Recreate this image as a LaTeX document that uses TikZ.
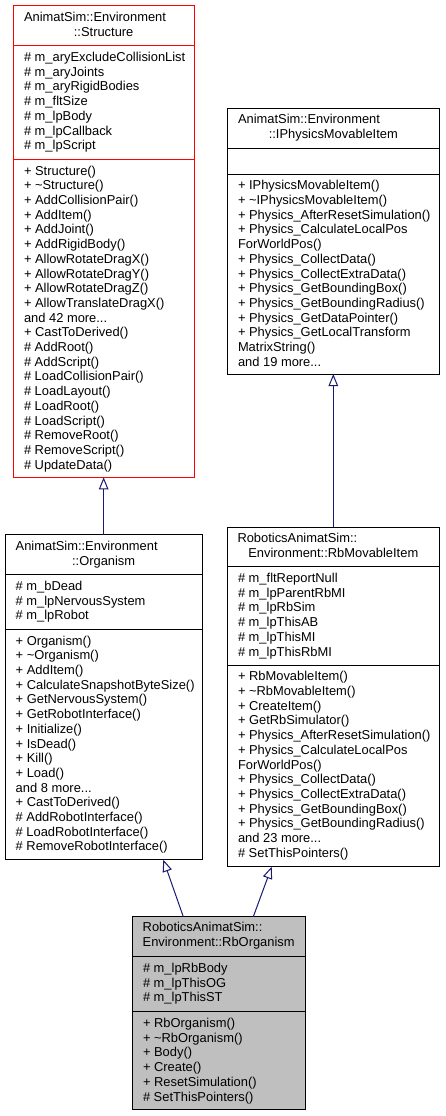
\documentclass[tikz,border=0pt]{standalone}
\usepackage{fontspec}
\setmainfont{Liberation Sans}
\usetikzlibrary{arrows.meta,calc}
\definecolor{mblue}{RGB}{25,25,112}
\definecolor{gfill}{RGB}{191,191,191}
\tikzset{
  classbox/.style={draw=black, fill=white, inner sep=0pt, outer sep=0pt, anchor=north west, line width=1pt},
  sepline/.style={line width=1pt},
  memtext/.style={anchor=base west, inner sep=0pt, font=\fontsize{12.9}{14.7}\selectfont},
  ttext/.style={anchor=base, inner sep=0pt, font=\fontsize{12.9}{14.7}\selectfont},
  inh/.style={draw=mblue, line width=1pt, -{Triangle[length=12pt,width=9.5pt,fill=white]}}
}
\newcommand{\memberlist}[4]{%
  \foreach \t [count=\i from 0] in {#4} {%
    \node[memtext] (#1-\i) at (#2, #3+15.8+14.7*\i) {\t};
  }}
\newcommand{\tld}{\char`\~}
\newcommand{\mdots}{...}
\begin{document}
\begin{tikzpicture}[x=1pt,y=-1pt]
\fill[white] (0,0) rectangle (445,1116);
\useasboundingbox (0,0) rectangle (445,1116);

% ---------- Structure ----------
\node[classbox, draw=red, minimum width=180.7pt, minimum height=471.6pt] (structure) at (13.3,5.7) {};
\draw[sepline, red] (13.3,45.7) -- (194,45.7);
\draw[sepline, red] (13.3,159.3) -- (194,159.3);
\node[memtext] (st-t1) at (23.8,21.2) {AnimatSim::Environment};
\node[ttext] (st-t2) at (103.65,36.2) {::Structure};
\memberlist{sta}{23.8}{45.7}{\# m\_aryExcludeCollisionList,\# m\_aryJoints,\# m\_aryRigidBodies,\# m\_fltSize,\# m\_lpBody,\# m\_lpCallback,\# m\_lpScript}
\memberlist{stm}{23.8}{159.3}{+ Structure(),+ \tld Structure(),+ AddCollisionPair(),+ AddItem(),+ AddJoint(),+ AddRigidBody(),+ AllowRotateDragX(),+ AllowRotateDragY(),+ AllowRotateDragZ(),+ AllowTranslateDragX(),and 42 more\mdots,+ CastToDerived(),\# AddRoot(),\# AddScript(),\# LoadCollisionPair(),\# LoadLayout(),\# LoadRoot(),\# LoadScript(),\# RemoveRoot(),\# RemoveScript(),\# UpdateData()}

% ---------- IPhysicsMovableItem ----------
\node[classbox, minimum width=212pt, minimum height=265.7pt] (iphys) at (227.3,108.3) {};
\draw[sepline] (227.3,148.3) -- (439.3,148.3);
\draw[sepline] (227.3,174) -- (439.3,174);
\node[memtext] (ip-t1) at (237.8,123.3) {AnimatSim::Environment};
\node[ttext] (ip-t2) at (333.3,138.3) {::IPhysicsMovableItem};
\memberlist{ipm}{237.8}{174}{+ IPhysicsMovableItem(),+ \tld IPhysicsMovableItem(),+ Physics\_AfterResetSimulation(),+ Physics\_CalculateLocalPos,ForWorldPos(),+ Physics\_CollectData(),+ Physics\_CollectExtraData(),+ Physics\_GetBoundingBox(),+ Physics\_GetBoundingRadius(),+ Physics\_GetDataPointer(),+ Physics\_GetLocalTransform,MatrixString(),and 19 more\mdots}

% ---------- Organism ----------
\node[classbox, minimum width=197.3pt, minimum height=325pt] (organism) at (5,534.7) {};
\draw[sepline] (5,574.7) -- (202.3,574.7);
\draw[sepline] (5,629.3) -- (202.3,629.3);
\node[memtext] (og-t1) at (15.5,550.2) {AnimatSim::Environment};
\node[ttext] (og-t2) at (103.65,565.2) {::Organism};
\memberlist{oga}{15.5}{574.7}{\# m\_bDead,\# m\_lpNervousSystem,\# m\_lpRobot}
\memberlist{ogm}{15.5}{629.3}{+ Organism(),+ \tld Organism(),+ AddItem(),+ CalculateSnapshotByteSize(),+ GetNervousSystem(),+ GetRobotInterface(),+ Initialize(),+ IsDead(),+ Kill(),+ Load(),and 8 more\mdots,+ CastToDerived(),\# AddRobotInterface(),\# LoadRobotInterface(),\# RemoveRobotInterface()}

% ---------- RbMovableItem ----------
\node[classbox, minimum width=212pt, minimum height=339.4pt] (rbmov) at (227.3,527.3) {};
\draw[sepline] (227.3,566.7) -- (439.3,566.7);
\draw[sepline] (227.3,665) -- (439.3,665);
\node[memtext] (rm-t1) at (237.3,542.3) {RoboticsAnimatSim::};
\node[ttext] (rm-t2) at (333.3,557.3) {Environment::RbMovableItem};
\memberlist{rma}{237.8}{566.7}{\# m\_fltReportNull,\# m\_lpParentRbMI,\# m\_lpRbSim,\# m\_lpThisAB,\# m\_lpThisMI,\# m\_lpThisRbMI}
\memberlist{rmm}{237.8}{665}{+ RbMovableItem(),+ \tld RbMovableItem(),+ CreateItem(),+ GetRbSimulator(),+ Physics\_AfterResetSimulation(),+ Physics\_CalculateLocalPos,ForWorldPos(),+ Physics\_CollectData(),+ Physics\_CollectExtraData(),+ Physics\_GetBoundingBox(),+ Physics\_GetBoundingRadius(),and 23 more\mdots,\# SetThisPointers()}

% ---------- RbOrganism ----------
\node[classbox, fill=gfill, minimum width=172.7pt, minimum height=192.6pt] (rborg) at (132.3,916.7) {};
\draw[sepline] (132.3,956.7) -- (305,956.7);
\draw[sepline] (132.3,1011.7) -- (305,1011.7);
\node[memtext] (ro-t1) at (142.5,931.9) {RoboticsAnimatSim::};
\node[ttext] (ro-t2) at (218.65,946.9) {Environment::RbOrganism};
\memberlist{roa}{142.8}{956.7}{\# m\_lpRbBody,\# m\_lpThisOG,\# m\_lpThisST}
\memberlist{rom}{142.8}{1011.7}{+ RbOrganism(),+ \tld RbOrganism(),+ Body(),+ Create(),+ ResetSimulation(),\# SetThisPointers()}

% ---------- inheritance arrows ----------
\draw[inh] (organism.north) -- (structure.south);
\draw[inh] (rbmov.north) -- (iphys.south);
\coordinate (ro-a) at ($(rborg.north west)+(51,0)$);
\coordinate (og-b) at ($(organism.south west)+(158.3,0)$);
\coordinate (ro-c) at ($(rborg.north west)+(121,0)$);
\coordinate (rm-d) at ($(rbmov.south west)+(44.4,0)$);
\draw[inh] (ro-a) -- (og-b);
\draw[inh] (ro-c) -- (rm-d);
\end{tikzpicture}
\end{document}
